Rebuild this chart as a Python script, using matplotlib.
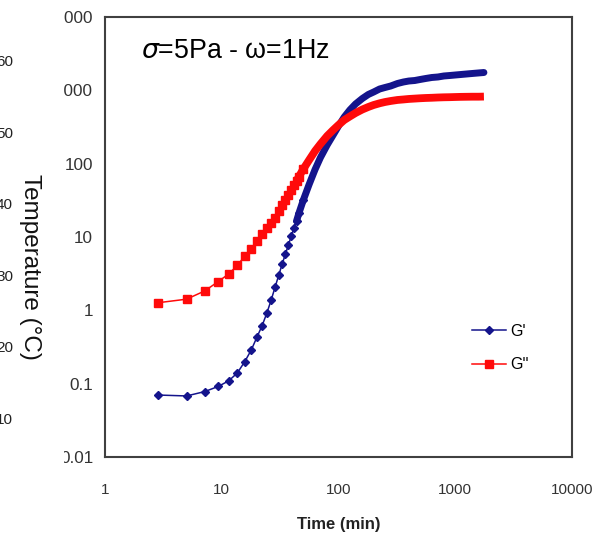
import matplotlib
matplotlib.use("Agg")
import matplotlib.pyplot as plt
from matplotlib.transforms import Bbox
import numpy as np

plt.rcParams['font.family'] = ['Liberation Sans', 'DejaVu Sans']

# time (min)
time_min = [2.85, 5.0, 7.15, 9.3, 11.45, 13.6, 15.75, 17.9, 20.05, 22.2,
            24.35, 26.5, 28.65, 30.8, 32.95, 35.1, 37.25, 39.4, 41.55, 43.7,
            45.85, 50, 56, 63, 70, 80, 90, 100, 112, 125,
            140, 160, 180, 200, 225, 250, 280, 320, 360, 400,
            450, 500, 560, 630, 710, 800, 900, 1000, 1120, 1250,
            1400, 1580, 1760]

# storage modulus G'
g_storage = [0.070, 0.068, 0.078, 0.0915, 0.109, 0.140, 0.200, 0.288, 0.433, 0.621,
             0.92, 1.38, 2.08, 3.03, 4.28, 5.87, 7.78, 10.3, 13.3, 16.5,
             21.2, 32.0, 52.0, 83.4, 121, 180, 246, 326, 433, 540,
             652, 774, 878, 949, 1043, 1093, 1146, 1240, 1300, 1340,
             1362, 1406, 1452, 1497, 1521, 1570, 1594, 1619, 1645, 1671,
             1698, 1726, 1751]

# loss modulus G''
g_loss = [1.27, 1.42, 1.84, 2.46, 3.13, 4.09, 5.51, 6.86, 8.69, 11.0,
          13.1, 15.5, 17.9, 22.6, 26.9, 32.0, 37.4, 43.8, 50.4, 58.0,
          66.8, 84.6, 112, 149, 185, 239, 288, 337, 394, 440,
          491, 548, 593, 631, 666, 693, 716, 739, 751, 763,
          772, 780, 787, 792, 799, 804, 807, 811, 815, 817,
          819, 819, 822]

x_ticks = [1, 10, 100, 1000, 10000]
x_labels = ['1', '10', '100', '1000', '10000']
y_ticks = [0.01, 0.1, 1, 10, 100, 1000, 10000]
y_labels = ['0.01', '0.1', '1', '10', '100', '1000', '10000']

# cut-off temperature axis of the neighbouring panel
temp_labels = ['60', '50', '40', '30', '20', '10']

navy = '#14148c'
red = '#ff0a0a'

fig = plt.figure(figsize=(6.14, 5.40), dpi=100)
ax = fig.add_axes([0.171, 0.1537, 0.7606, 0.8148])

t = np.array(time_min)
gs = np.array(g_storage)
gl = np.array(g_loss)
dense = t >= 43
sparse = t <= 52

# late part: points overlap into a solid band
ax.plot(t[dense], gs[dense], color=navy, lw=5.0, solid_capstyle='round')
ax.plot(t[dense], gl[dense], color=red, lw=5.6, solid_capstyle='butt')
# early part: separate markers
ax.plot(t[sparse], gs[sparse], color=navy, lw=1.1, marker='D', ms=4.2, mec=navy, mfc=navy)
ax.plot(t[sparse], gl[sparse], color=red, lw=1.1, marker='s', ms=5.5, mec=red, mfc=red)

# legend entries
ax.plot([], [], color=navy, lw=1.1, marker='D', ms=4.2, mec=navy, mfc=navy, label="G'")
ax.plot([], [], color=red, lw=1.1, marker='s', ms=5.5, mec=red, mfc=red, label="G''")

ax.set_xscale('log')
ax.set_yscale('log')
ax.set_xlim(1, 10000)
ax.set_ylim(0.01, 10000)
ax.set_xticks(x_ticks, x_labels)
ax.set_yticks(y_ticks, y_labels)
ax.minorticks_off()
ax.tick_params(axis='both', length=0, colors='#333333')
ax.tick_params(axis='x', pad=19, labelsize=11)
ax.tick_params(axis='y', pad=8.5, labelsize=12.3)
for s in ax.spines.values():
    s.set_color('#404040')
    s.set_linewidth(1.5)

# the panel is cropped on the left: clip the tick labels like the picture
clip = Bbox.from_extents(64, 0, 614, 540)
for lab in ax.get_yticklabels():
    lab.set_clip_box(clip)
    lab.set_clip_on(True)

ax.set_xlabel('Time (min)', fontsize=12, fontweight='bold', color='#222222', labelpad=14)

ax.text(0.078, 0.922, r'$\sigma$=5Pa - ω=1Hz', transform=ax.transAxes,
        fontsize=19.3, color='black', va='center', ha='left')

ax.legend(loc='upper left', bbox_to_anchor=(0.755, 0.335), frameon=False,
          fontsize=11.5, handlelength=2.1, labelspacing=1.15, handletextpad=0.3)

# left fragments of the other panel
fig.text(30 / 614, 1 - 267 / 540, 'Temperature (°C)', rotation=270,
         ha='center', va='center', fontsize=17.5, color='#111111')
for i, lab in enumerate(temp_labels):
    fig.text(13 / 614, 1 - (62 + 71.6 * i) / 540, lab, ha='right', va='center',
             fontsize=11, color='#222222')

fig.savefig('out.png', dpi=100)
